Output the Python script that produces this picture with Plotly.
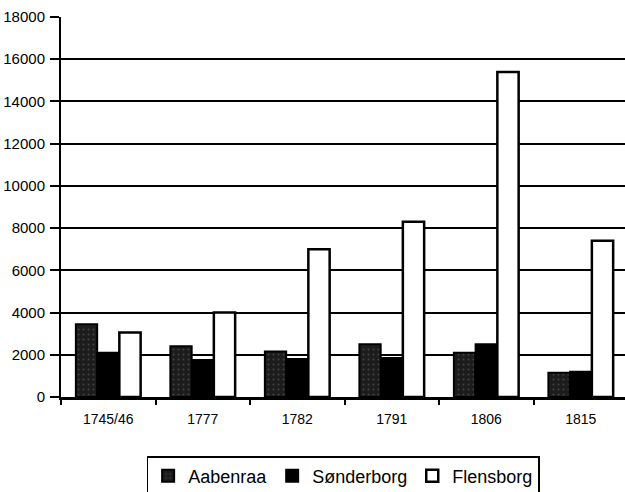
import plotly.graph_objects as go

categories = ["1745/46", "1777", "1782", "1791", "1806", "1815"]
aabenraa = [3450, 2400, 2150, 2500, 2100, 1150]
sonderborg = [2100, 1750, 1800, 1850, 2500, 1200]
flensborg = [3050, 4000, 7000, 8300, 15400, 7400]
y_ticks = list(range(0, 18001, 2000))

fig = go.Figure()
fig.add_bar(name="Aabenraa", x=categories, y=aabenraa,
            marker=dict(color="#1c1c1c", line=dict(color="#000000", width=2),
                        pattern=dict(shape=".", fgcolor="#6a6a6a", bgcolor="#1c1c1c",
                                     size=5, solidity=0.12)))
fig.add_bar(name="Sønderborg", x=categories, y=sonderborg,
            marker=dict(color="#000000", line=dict(color="#000000", width=2)))
fig.add_bar(name="Flensborg", x=categories, y=flensborg,
            marker=dict(color="#ffffff", line=dict(color="#000000", width=2.5)))

fig.update_layout(
    width=625, height=492,
    margin=dict(l=61, r=0, t=17, b=95, autoexpand=False),
    paper_bgcolor="white", plot_bgcolor="white",
    barmode="group", bargap=0.31, bargroupgap=0.02,
    font=dict(family="Arial, Liberation Sans, sans-serif", color="black", size=14),
    showlegend=True,
    legend=dict(orientation="h", xref="container", yref="container",
                x=0.549, xanchor="center", y=0.073, yanchor="top",
                bordercolor="black", borderwidth=1.5, font=dict(size=18),
                itemwidth=30, traceorder="normal"),
    xaxis=dict(showline=True, linecolor="black", linewidth=2.5, ticks="outside",
               tickson="boundaries", ticklen=5, tickcolor="black", tickwidth=1.5,
               showgrid=False, range=[-0.5, 5.468], tickfont=dict(size=14),
               ticklabelstandoff=7),
    yaxis=dict(range=[0, 18000], tickvals=y_ticks, showline=True, linecolor="black",
               linewidth=2, ticks="outside", ticklen=9, tickcolor="black", tickwidth=1.5,
               showgrid=True, gridcolor="black", gridwidth=1.5, zeroline=False,
               tickformat="d", tickfont=dict(size=15), ticklabelstandoff=2),
)

fig.write_html("out.html", config={"displayModeBar": False},
               post_script="document.body.style.margin='0';document.body.style.overflow='hidden';")
